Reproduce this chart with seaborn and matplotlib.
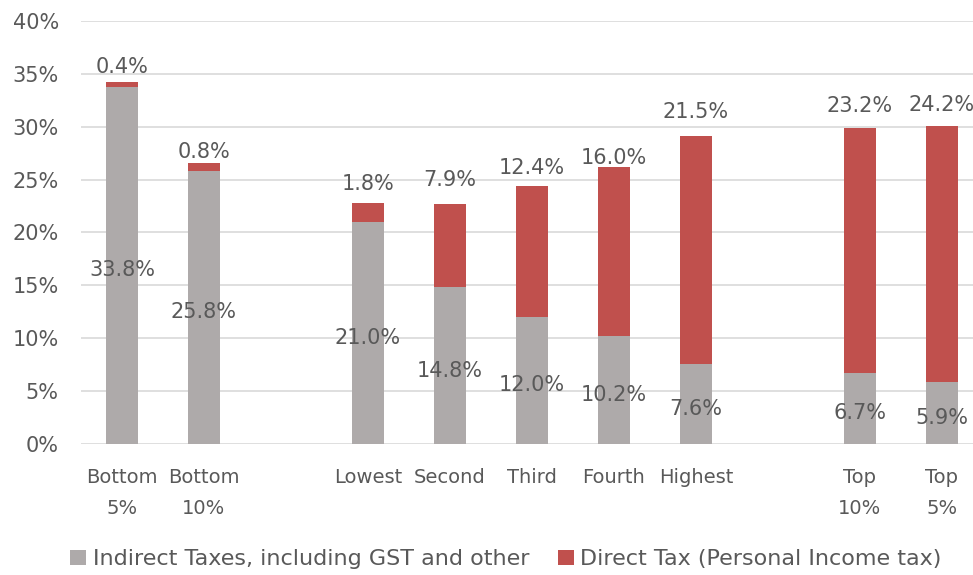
import matplotlib
matplotlib.use("Agg")
import matplotlib.pyplot as plt
from matplotlib.patches import Patch
import pandas as pd
import seaborn as sns

# ---- data ----
categories = ["Bottom\n5%", "Bottom\n10%", "Lowest", "Second", "Third",
              "Fourth", "Highest", "Top\n10%", "Top\n5%"]
indirect = [33.8, 25.8, 21.0, 14.8, 12.0, 10.2, 7.6, 6.7, 5.9]
direct = [0.4, 0.8, 1.8, 7.9, 12.4, 16.0, 21.5, 23.2, 24.2]
series_names = ["Indirect Taxes, including GST and other",
                "Direct Tax (Personal Income tax)"]
yticks = [0, 5, 10, 15, 20, 25, 30, 35, 40]

# ---- layout / style (not data) ----
GAP_A, GAP_B = "gap_a", "gap_b"
order = categories[:2] + [GAP_A] + categories[2:7] + [GAP_B] + categories[7:]
GRAY = "#AEAAAA"
RED = "#C0504D"
TEXT = "#595959"
FS = 15
direct_label_px = [15, 11, 19, 24, 18, 9, 24, 22, 21]  # label height above bar top

df = pd.DataFrame({"group": categories, "indirect": indirect, "direct": direct})
df["total"] = df["indirect"] + df["direct"]

sns.set_theme(style="white")
plt.rcParams["font.family"] = ["DejaVu Sans"]

fig = plt.figure(figsize=(9.73, 5.75), dpi=100)
ax = fig.add_axes([81 / 973, 131 / 575, 1 - 81 / 973, 423 / 575])

sns.barplot(data=df, x="group", y="total", order=order, color=RED,
            width=0.39, saturation=1, errorbar=None, ax=ax, linewidth=0)
sns.barplot(data=df, x="group", y="indirect", order=order, color=GRAY,
            width=0.39, saturation=1, errorbar=None, ax=ax, linewidth=0)

for i, cat in enumerate(categories):
    x = order.index(cat)
    v = df.loc[i, "indirect"]
    d = df.loc[i, "direct"]
    t = df.loc[i, "total"]
    ax.annotate(f"{v:.1f}%", (x, v / 2), xytext=(0, -3.5),
                textcoords="offset points", ha="center", va="center",
                fontsize=FS, color=TEXT)
    ax.annotate(f"{d:.1f}%", (x, t), xytext=(0, direct_label_px[i] * 0.72),
                textcoords="offset points", ha="center", va="center",
                fontsize=FS, color=TEXT)

ax.set_ylim(0, 40)
ax.set_xlim(-0.5, 10.38)
ax.set_yticks(yticks)
ax.set_yticklabels([f"{t}%" for t in yticks])
ax.set_xticks(range(len(order)))
ax.set_xticklabels(["" if o in (GAP_A, GAP_B) else o for o in order])
for lbl in ax.get_xticklabels():
    lbl.set_linespacing(1.8)
ax.set_xlabel("")
ax.set_ylabel("")
ax.yaxis.grid(True, color="#D9D9D9", linewidth=1.2)
ax.xaxis.grid(False)
ax.set_axisbelow(True)
for s in ax.spines.values():
    s.set_visible(False)
ax.tick_params(axis="y", length=0, pad=16, labelsize=FS, labelcolor=TEXT)
ax.tick_params(axis="x", length=0, pad=17, labelsize=14, labelcolor=TEXT)

handles = [Patch(facecolor=GRAY, edgecolor="none"),
           Patch(facecolor=RED, edgecolor="none")]
fig.legend(handles, series_names, loc="center", bbox_to_anchor=(0.52, 0.027),
           ncol=2, frameon=False, fontsize=16, labelcolor=TEXT,
           handlelength=0.7, handleheight=0.7, handletextpad=0.3,
           columnspacing=1.3)

fig.savefig("out.png", dpi=100)
